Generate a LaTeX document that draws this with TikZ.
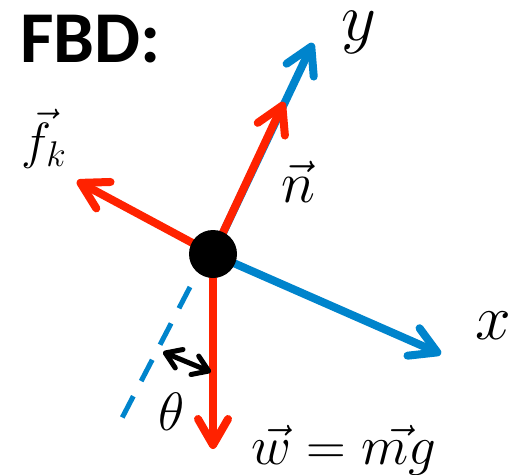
\RequirePackage{fix-cm}
\documentclass[tikz,border=0pt]{standalone}
\usepackage{fontspec}
\newfontfamily\fbdfont{Carlito}
\usetikzlibrary{arrows.meta}
\definecolor{fred}{RGB}{255,34,0}
\definecolor{fblue}{RGB}{0,132,204}
\newcommand\msz[1]{\fontsize{#1}{#1}\selectfont}
\begin{document}
\begin{tikzpicture}[x=1pt,y=-1pt,
  bigtip/.style={-{Straight Barb[length=26pt,width=30pt,round]}},
  force/.style={draw=fred,line width=8pt,bigtip},
  axisline/.style={draw=fblue,line width=8pt,bigtip},
  guide/.style={draw=fblue,line width=5pt,dash pattern=on 24pt off 17pt},
  anglearrow/.style={draw=black,line width=5pt,{Straight Barb[length=15pt,width=20pt,round]}-{Straight Barb[length=15pt,width=20pt,round]}},
  lbl/.style={inner sep=0pt},
  dot/.style={circle,fill=black,minimum size=48pt,inner sep=0pt}]
\useasboundingbox (0,0) rectangle (516,474);
\coordinate (c) at (213,254);
\coordinate (ytip) at (313,43);
\coordinate (xtip) at (441,354);
\coordinate (ntip) at (284,102);
\coordinate (ftip) at (77,181);
\coordinate (wtip) at (213,449);
\coordinate (ga) at (190,287);
\coordinate (gb) at (122,418);
\coordinate (ta) at (163,352);
\coordinate (tb) at (211,372);
% axes
\draw[axisline] (c) -- (ytip);
\draw[axisline] (c) -- (xtip);
\draw[guide] (ga) -- (gb);
% forces
\draw[force] (c) -- (ntip);
\draw[force] (c) -- (ftip);
\draw[force] (c) -- (wtip);
\draw[anglearrow] (ta) -- (tb);
\node[dot] (o) at (c) {};
% labels
\node[lbl] (ylab) at (359,32) {\msz{68}$y$};
\node[lbl] (xlab) at (493,326) {\msz{64}$x$};
\node[lbl] (nlab) at (298,182) {\msz{58}$\vec n$};
\node[lbl] (flab) at (44,139) {\msz{51}$\vec f_k$};
\node[lbl] (tlab) at (172,412) {\msz{54}$\theta$};
\node[lbl] (wlab) at (344,450) {\msz{55}$\vec w=\vec{mg}$};
\node[lbl,anchor=base west] (fbd) at (20,62) {\fbdfont\bfseries\fontsize{73}{80}\selectfont FBD:};
\end{tikzpicture}
\end{document}
